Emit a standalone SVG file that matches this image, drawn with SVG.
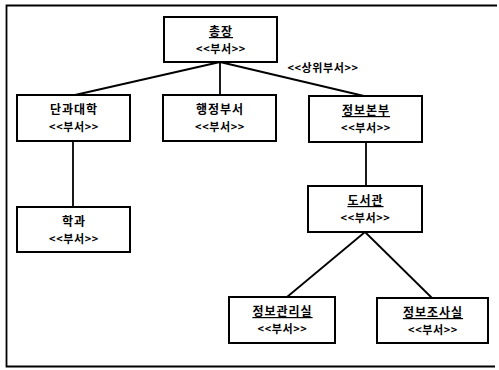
<svg xmlns="http://www.w3.org/2000/svg" width="499" height="370" viewBox="0 0 499 370">
<style>
.box{fill:#fff;stroke:#000;stroke-width:2}
.ln{stroke:#000;stroke-width:1.8;fill:none}
.nm{font-family:"Noto Sans CJK KR","Noto Sans",sans-serif;font-size:12px;font-weight:bold;text-anchor:middle;fill:#000;letter-spacing:1px}
.u{text-decoration:underline}
.st{font-family:"Noto Sans CJK KR","Noto Sans",sans-serif;font-size:11px;font-weight:bold;text-anchor:middle;fill:#000;letter-spacing:0.6px}
</style>
<rect width="499" height="370" fill="#fff"/>
<path d="M497,5.5 H6.5 V366.5 H495" class="ln"/>
<g id="connectors">
<line x1="220" y1="62" x2="75" y2="95" class="ln"/>
<line x1="220" y1="62" x2="220" y2="95" class="ln"/>
<line x1="220" y1="62" x2="364" y2="96" class="ln"/>
<line x1="73" y1="141" x2="73" y2="207" class="ln"/>
<line x1="366" y1="142" x2="366" y2="186" class="ln"/>
<line x1="365" y1="232" x2="287" y2="297" class="ln"/>
<line x1="365" y1="232" x2="432" y2="298" class="ln"/>
<text x="323" y="72" class="st">&lt;&lt;상위부서&gt;&gt;</text>
</g>
<g id="n1"><rect x="164" y="17" width="113" height="45" class="box"/><text x="221" y="36" class="nm u">총장</text><text x="221" y="53" class="st">&lt;&lt;부서&gt;&gt;</text></g>
<g id="n2"><rect x="17" y="95" width="113" height="46" class="box"/><text x="74" y="114" class="nm">단과대학</text><text x="74" y="131" class="st">&lt;&lt;부서&gt;&gt;</text></g>
<g id="n3"><rect x="163" y="95" width="113" height="46" class="box"/><text x="220" y="114" class="nm">행정부서</text><text x="220" y="131" class="st">&lt;&lt;부서&gt;&gt;</text></g>
<g id="n4"><rect x="309" y="96" width="113" height="46" class="box"/><text x="366" y="115" class="nm u">정보본부</text><text x="366" y="132" class="st">&lt;&lt;부서&gt;&gt;</text></g>
<g id="n5"><rect x="17" y="207" width="113" height="45" class="box"/><text x="74" y="226" class="nm">학과</text><text x="74" y="243" class="st">&lt;&lt;부서&gt;&gt;</text></g>
<g id="n6"><rect x="308" y="186" width="114" height="46" class="box"/><text x="365.5" y="205" class="nm u">도서관</text><text x="365.5" y="222" class="st">&lt;&lt;부서&gt;&gt;</text></g>
<g id="n7"><rect x="229" y="297" width="106" height="46" class="box"/><text x="282.5" y="316" class="nm u">정보관리실</text><text x="282.5" y="333" class="st">&lt;&lt;부서&gt;&gt;</text></g>
<g id="n8"><rect x="377" y="298" width="111" height="45" class="box"/><text x="433" y="317" class="nm u">정보조사실</text><text x="433" y="334" class="st">&lt;&lt;부서&gt;&gt;</text></g>
</svg>
